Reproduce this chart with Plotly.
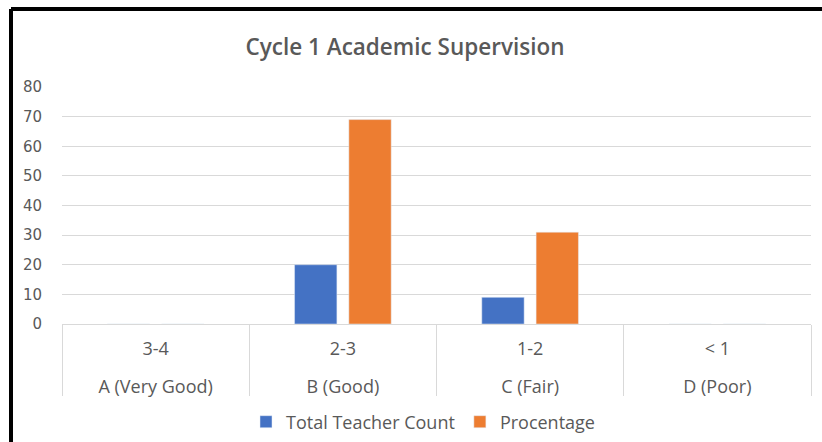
import plotly.graph_objects as go

ranges = ["3-4", "2-3", "1-2", "< 1"]
grades = ["A (Very Good)", "B (Good)", "C (Fair)", "D (Poor)"]
teacher_count = [0, 20, 9, 0]
percentage = [0, 69, 31, 0]
series_names = ["Total Teacher Count", "Procentage"]
y_ticks = [0, 10, 20, 30, 40, 50, 60, 70, 80]

fig = go.Figure()
fig.add_trace(go.Bar(x=ranges, y=teacher_count, name=series_names[0], marker_color="#4472C4"))
fig.add_trace(go.Bar(x=ranges, y=percentage, name=series_names[1], marker_color="#ED7D31"))
# invisible carrier for the second row of category labels
fig.add_trace(go.Scatter(x=grades, y=[0] * len(grades), xaxis="x2", mode="markers",
                         marker=dict(opacity=0), showlegend=False, hoverinfo="skip"))

W, H = 822, 442
L, R, T, B = 62, 11, 87, 118
pw, ph = W - L - R, H - T - B

lab_font = dict(family="Open Sans, sans-serif", size=18, color="#595959")

fig.update_layout(
    width=W, height=H,
    margin=dict(l=L, r=R, t=T, b=B, autoexpand=False),
    paper_bgcolor="white", plot_bgcolor="white",
    barmode="group", bargap=0.42, bargroupgap=0.22,
    title=dict(text="Cycle 1 Academic Supervision", x=405 / W, xanchor="center",
               y=1 - 47 / H, yanchor="middle", yref="container",
               font=dict(family="Open Sans, sans-serif", size=22.5, weight=600, color="#595959")),
    legend=dict(orientation="h", x=(423 - L) / pw, xanchor="center", y=-(422 - (T + ph)) / ph,
                yanchor="middle", font=lab_font, bgcolor="rgba(0,0,0,0)"),
    showlegend=True,
    xaxis=dict(type="category", showline=True, linecolor="#d9d9d9", linewidth=1,
               range=[-0.5, len(ranges) - 0.5],
               tickson="boundaries", ticks="outside", ticklen=71, tickcolor="#d9d9d9",
               tickwidth=1, tickfont=lab_font, ticklabelstandoff=8, showgrid=False,
               automargin=False),
    xaxis2=dict(overlaying="x", anchor="y", side="bottom", type="category",
                categoryarray=grades, range=[-0.5, len(grades) - 0.5],
                showline=False, showgrid=False, ticks="", zeroline=False,
                tickfont=lab_font, ticklabelstandoff=50, automargin=False),
    yaxis=dict(range=[0, 80], tickvals=y_ticks, showgrid=True, gridcolor="#d9d9d9", gridwidth=1,
               zeroline=False, showline=False, ticks="", automargin=False,
               tickfont=dict(family="DejaVu Sans, Verdana, sans-serif", size=15, color="#595959"),
               ticklabelstandoff=19),
)

# chart frame
x_left = (11 - L) / pw
y_top = 1 + (T - 9) / ph
fig.add_shape(type="line", xref="paper", yref="paper", x0=x_left, x1=x_left, y0=y_top, y1=-1,
              line=dict(color="black", width=4))
fig.add_shape(type="line", xref="paper", yref="paper", x0=x_left, x1=1.05, y0=y_top, y1=y_top,
              line=dict(color="black", width=4))

fig.write_html("out.html", config={"displayModeBar": False},
               post_script="document.body.style.margin='0';document.body.style.overflow='hidden';")
